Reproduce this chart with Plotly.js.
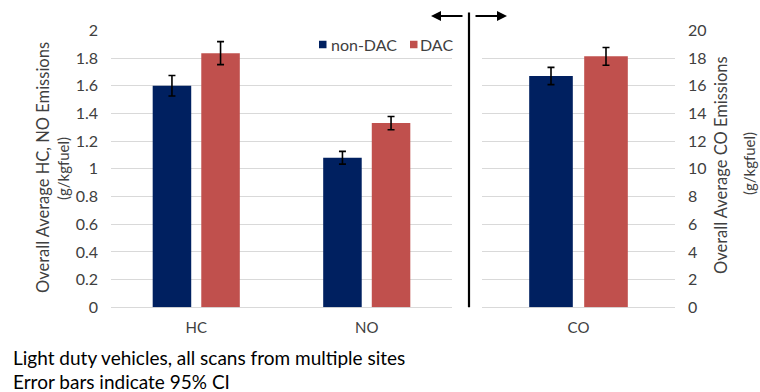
<!DOCTYPE html>
<html>
<head>
<meta charset="utf-8">
<script src="https://cdn.plot.ly/plotly-3.0.1.min.js"></script>
<style>
  html, body { margin: 0; padding: 0; background: #ffffff; }
  #chart { width: 760px; height: 392px; }
</style>
</head>
<body>
<div id="chart"></div>
<script>
// Pollutant categories on each panel
const categoriesLeft = ['HC', 'NO'];
const categoriesRight = ['CO'];

// Overall average emissions, g/kgfuel (HC, NO on left axis)
const nonDacLeft = [1.60, 1.08];
const dacLeft = [1.835, 1.33];
// 95% CI half-widths
const nonDacLeftErr = [0.074, 0.046];
const dacLeftErr = [0.083, 0.048];

// CO on right axis
const nonDacRight = [16.7];
const dacRight = [18.12];
const nonDacRightErr = [0.62];
const dacRightErr = [0.64];

const seriesNames = ['non-DAC', 'DAC'];
const seriesColors = ['#002060', '#C0504D'];

const W = 760, H = 392;
const px = v => v / W;          // horizontal pixel -> paper
const py = v => 1 - v / H;      // vertical pixel (from top) -> paper

const FONT = 'Lato, sans-serif';
const TEXT = '#404040';

const errStyle = arr => ({
  type: 'data', array: arr, visible: true,
  color: '#000000', thickness: 1.6, width: 3.5
});

const traces = [
  { type: 'bar', name: seriesNames[0], x: categoriesLeft, y: nonDacLeft,
    error_y: errStyle(nonDacLeftErr), marker: { color: seriesColors[0] },
    xaxis: 'x', yaxis: 'y', hoverinfo: 'y' },
  { type: 'bar', name: seriesNames[1], x: categoriesLeft, y: dacLeft,
    error_y: errStyle(dacLeftErr), marker: { color: seriesColors[1] },
    xaxis: 'x', yaxis: 'y', hoverinfo: 'y' },
  { type: 'bar', name: seriesNames[0], x: categoriesRight, y: nonDacRight,
    error_y: errStyle(nonDacRightErr), marker: { color: seriesColors[0] },
    xaxis: 'x2', yaxis: 'y2', hoverinfo: 'y' },
  { type: 'bar', name: seriesNames[1], x: categoriesRight, y: dacRight,
    error_y: errStyle(dacRightErr), marker: { color: seriesColors[1] },
    xaxis: 'x2', yaxis: 'y2', hoverinfo: 'y' }
];

const plotTop = 30.3, plotBottom = 307.3;

const yCommon = {
  domain: [py(plotBottom), py(plotTop)],
  showgrid: true, gridcolor: '#D9D9D9', gridwidth: 1,
  zeroline: true, zerolinecolor: '#D9D9D9', zerolinewidth: 1,
  showline: false, ticks: '',
  tickfont: { family: FONT, size: 16, color: TEXT },
  ticklabelstandoff: 12, fixedrange: true
};
const xCommon = {
  type: 'category', showgrid: false, zeroline: false, showline: false,
  ticks: '', tickfont: { family: FONT, size: 15, color: TEXT },
  ticklabelstandoff: 10, fixedrange: true
};

const titleFont = { family: FONT, size: 16.5, color: TEXT };
const subFont = { family: FONT, size: 15, color: TEXT };

const annotations = [
  // left axis title
  { xref: 'paper', yref: 'paper', x: px(43), y: py(168), textangle: -90,
    text: 'Overall Average HC, NO Emissions', showarrow: false, font: titleFont,
    xanchor: 'center', yanchor: 'middle' },
  { xref: 'paper', yref: 'paper', x: px(63), y: py(168), textangle: -90,
    text: '(g/kgfuel)', showarrow: false, font: subFont,
    xanchor: 'center', yanchor: 'middle' },
  // right axis title
  { xref: 'paper', yref: 'paper', x: px(721), y: py(165), textangle: -90,
    text: 'Overall Average CO Emissions', showarrow: false, font: titleFont,
    xanchor: 'center', yanchor: 'middle' },
  { xref: 'paper', yref: 'paper', x: px(749), y: py(164), textangle: -90,
    text: '(g/kgfuel)', showarrow: false, font: subFont,
    xanchor: 'center', yanchor: 'middle' },
  // arrows either side of the divider
  { xref: 'paper', yref: 'paper', x: px(431), y: py(16), ax: 33, ay: 0,
    axref: 'pixel', ayref: 'pixel', text: '', showarrow: true,
    arrowhead: 2, arrowsize: 1, arrowwidth: 2, arrowcolor: '#000000' },
  { xref: 'paper', yref: 'paper', x: px(507), y: py(16), ax: -33, ay: 0,
    axref: 'pixel', ayref: 'pixel', text: '', showarrow: true,
    arrowhead: 2, arrowsize: 1, arrowwidth: 2, arrowcolor: '#000000' },
  // notes below the chart
  { xref: 'paper', yref: 'paper', x: px(11), y: py(357),
    text: 'Light duty vehicles, all scans from multiple sites', showarrow: false,
    xanchor: 'left', yanchor: 'middle', font: { family: FONT, size: 19, color: '#000000' } },
  { xref: 'paper', yref: 'paper', x: px(11), y: py(381),
    text: 'Error bars indicate 95% CI', showarrow: false,
    xanchor: 'left', yanchor: 'middle', font: { family: FONT, size: 19, color: '#000000' } }
];

// Compact legend: small square swatch followed by the series name
const legendItems = [
  { swatchX: 319, textX: 329 },
  { swatchX: 410, textX: 418 }
];
const legendY = 44.5;
const shapes = [
  // divider between the two panels
  { type: 'line', xref: 'paper', yref: 'paper', x0: px(469), x1: px(469),
    y0: py(plotBottom), y1: py(12.5), line: { color: '#000000', width: 2.2 } }
];
legendItems.forEach((it, i) => {
  shapes.push({ type: 'rect', xref: 'paper', yref: 'paper',
    x0: px(it.swatchX), x1: px(it.swatchX + 7.5),
    y0: py(legendY + 3.75), y1: py(legendY - 3.75),
    fillcolor: seriesColors[i], line: { width: 0 } });
  annotations.push({ xref: 'paper', yref: 'paper', x: px(it.textX), y: py(legendY),
    text: seriesNames[i], showarrow: false, xanchor: 'left', yanchor: 'middle',
    font: { family: FONT, size: 16, color: TEXT } });
});

const layout = {
  width: W, height: H,
  margin: { l: 0, r: 0, t: 0, b: 0 },
  paper_bgcolor: '#ffffff', plot_bgcolor: 'rgba(0,0,0,0)',
  barmode: 'group', bargap: 0.43, bargroupgap: 0.207,
  showlegend: false,
  xaxis: Object.assign({}, xCommon, { domain: [px(111), px(452)], anchor: 'y' }),
  yaxis: Object.assign({}, yCommon, { anchor: 'x', range: [0, 2], dtick: 0.2, side: 'left' }),
  xaxis2: Object.assign({}, xCommon, { domain: [px(482), px(675)], anchor: 'y2' }),
  yaxis2: Object.assign({}, yCommon, { anchor: 'x2', range: [0, 20], dtick: 2, side: 'right' }),
  shapes: shapes,
  annotations: annotations
};

Plotly.newPlot('chart', traces, layout, { displayModeBar: false, staticPlot: true });
</script>
</body>
</html>
